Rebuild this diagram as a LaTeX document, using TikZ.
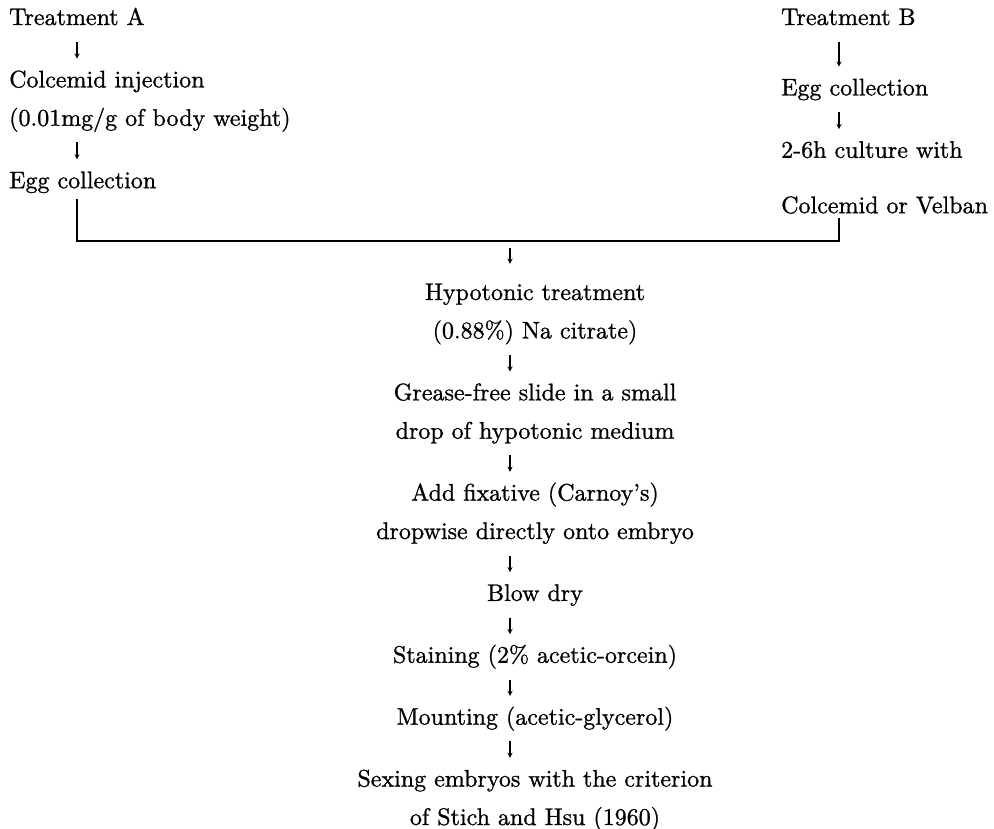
\documentclass[tikz,border=0pt]{standalone}
\usepackage{fontspec}
\setmainfont{lmroman10-regular.otf}[FakeBold=1]
\usetikzlibrary{arrows}
\usetikzlibrary{positioning}
\tikzstyle{stage} = [inner sep=0pt, text height=17pt, text depth=5pt]
\tikzstyle{arrow} = [line width=1.3pt,->,>=stealth, shorten <=11.5pt, shorten >=11.5pt]
\tikzstyle{joinline} = [line width=1.6pt]
\tikzstyle{every node}=[font=\fontsize{24}{28}\selectfont]

\begin{document}
\begin{tikzpicture}[x=1pt, y=-1pt, node distance = 16pt]
\useasboundingbox (0,0) rectangle (994,829);

\coordinate (colA) at (77,0);
\coordinate (colB) at (839,0);
\coordinate (spine) at (510,0);
\coordinate (join) at (510,241);

% treatment A
\node (treatA) [stage, anchor=base west] at (9,25) {Treatment A};
\node (injection) [stage, below=40pt of treatA.south west, anchor=north west] {Colcemid injection};
\node (dose) [stage, below= of injection.south west, anchor=north west] {(0.01mg/g of body weight)};
\node (eggA) [stage, below=40pt of dose.south west, anchor=north west] {Egg collection};

% treatment B
\node (treatB) [stage, anchor=base west] at (781,25) {Treatment B};
\node (eggB) [stage, below=48pt of treatB.south west, anchor=north west] {Egg collection};
\node (culture) [stage, below=40pt of eggB.south west, anchor=north west] {2-6h culture with};
\node (velban) [stage, below=33pt of culture.south west, anchor=north west] {Colcemid or Velban};

% common steps
\node (hypo) [stage, anchor=base] at (535,300) {Hypotonic treatment};
\node (citrate) [stage, below= of hypo] {(0.88\%) Na citrate)};
\node (slide) [stage, below=39.5pt of citrate] {Grease-free slide in a small};
\node (drop) [stage, below= of slide] {drop of hypotonic medium};
\node (fixative) [stage, below=39.5pt of drop] {Add fixative (Carnoy's)};
\node (dropwise) [stage, below= of fixative] {dropwise directly onto embryo};
\node (blow) [stage, below=39.5pt of dropwise] {Blow dry};
\node (staining) [stage, below=39.5pt of blow] {Staining (2\% acetic-orcein)};
\node (mounting) [stage, below=39.5pt of staining] {Mounting (acetic-glycerol)};
\node (sexing) [stage, below=39.5pt of mounting] {Sexing embryos with the criterion};
\node (stich) [stage, below= of sexing] {of Stich and Hsu (1960)};

\draw [arrow](treatA.south -| colA) -- (injection.north -| colA);
\draw [arrow](dose.south -| colA) -- (eggA.north -| colA);
\draw [arrow](treatB.south -| colB) -- (eggB.north -| colB);
\draw [arrow](eggB.south -| colB) -- (culture.north -| colB);

\draw [joinline]([yshift=-6pt]eggA.south -| colA) |- (join) -| (velban.south -| colB);

\draw [arrow, shorten <=7pt, shorten >=19pt](join) -- (hypo.north -| spine);
\draw [arrow](citrate.south -| spine) -- (slide.north -| spine);
\draw [arrow](drop.south -| spine) -- (fixative.north -| spine);
\draw [arrow](dropwise.south -| spine) -- (blow.north -| spine);
\draw [arrow](blow.south -| spine) -- (staining.north -| spine);
\draw [arrow](staining.south -| spine) -- (mounting.north -| spine);
\draw [arrow](mounting.south -| spine) -- (sexing.north -| spine);

\end{tikzpicture}
\end{document}
